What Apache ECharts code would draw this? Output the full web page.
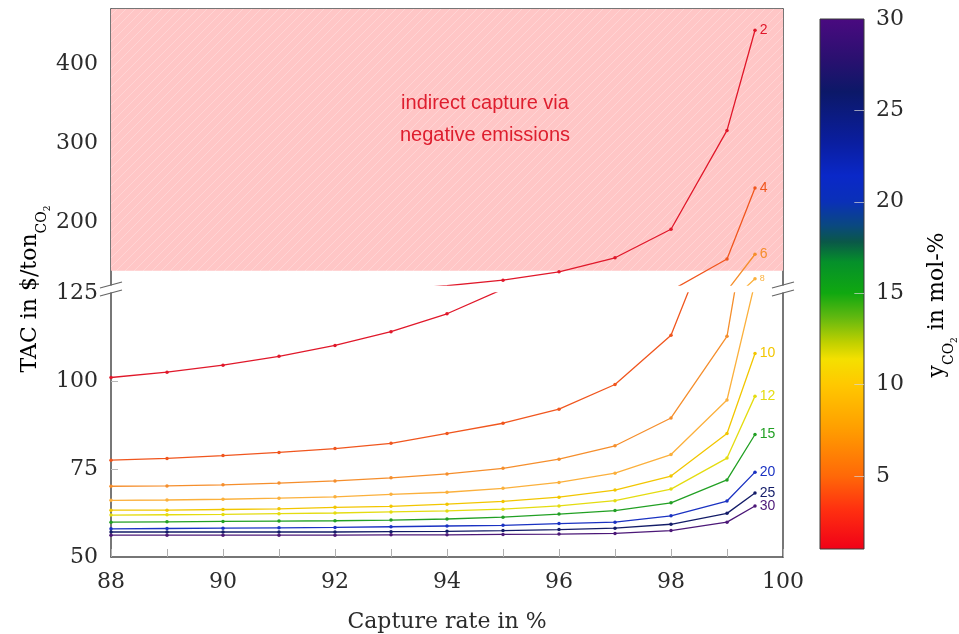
<!DOCTYPE html>
<html>
<head>
<meta charset="utf-8">
<script src="https://cdn.jsdelivr.net/npm/echarts@6/dist/echarts.min.js"></script>
<style>
  html, body { margin: 0; padding: 0; background: #fff; }
  #chart-container { width: 959px; height: 634px; }
</style>
</head>
<body>
<div id="chart-container"></div>
<script>
// capture rate (x) for every curve
const rates = [88, 89, 90, 91, 92, 93, 94, 95, 96, 97, 98, 99, 99.5];

// CO2 concentration in mol-% of each curve
const yCO2 = [2, 4, 6, 8, 10, 12, 15, 20, 25, 30];

// TAC in $/ton CO2, one array per concentration
const tacY2 = [101.0, 102.5, 104.5, 107.0, 110.1, 114.0, 119.1, 126.1, 136.7, 154.5, 190.7, 316, 443];
const tacY4 = [77.5, 78.0, 78.8, 79.7, 80.8, 82.3, 85.1, 88.0, 92.0, 99.0, 113.0, 153, 243];
const tacY6 = [70.1, 70.2, 70.5, 71.0, 71.6, 72.5, 73.6, 75.2, 77.8, 81.6, 89.5, 112.7, 159];
const tacY8 = [66.1, 66.2, 66.4, 66.7, 67.1, 67.8, 68.4, 69.5, 71.2, 73.8, 79.1, 94.6, 128];
const tacY10 = [63.3, 63.3, 63.5, 63.7, 64.1, 64.4, 65.0, 65.8, 67.0, 69.0, 73.0, 85.1, 107.8];
const tacY12 = [61.9, 62.0, 62.1, 62.3, 62.5, 62.8, 63.1, 63.6, 64.5, 66.0, 69.3, 78.1, 95.7];
const tacY15 = [59.9, 60.0, 60.1, 60.2, 60.3, 60.5, 60.8, 61.3, 62.2, 63.2, 65.4, 71.9, 84.8];
const tacY20 = [58.0, 58.1, 58.2, 58.3, 58.4, 58.6, 58.8, 59.0, 59.5, 59.9, 61.7, 65.9, 74.1];
const tacY25 = [57.1, 57.1, 57.1, 57.1, 57.1, 57.2, 57.3, 57.5, 57.8, 58.2, 59.3, 62.4, 68.2];
const tacY30 = [56.2, 56.2, 56.2, 56.2, 56.2, 56.3, 56.3, 56.4, 56.5, 56.7, 57.5, 59.9, 64.5];

const curves = [tacY2, tacY4, tacY6, tacY8, tacY10, tacY12, tacY15, tacY20, tacY25, tacY30];

const lineColors = ['#e0182a', '#f0561e', '#f58e2c', '#fbb03c', '#f2c600', '#e4dc10', '#22a024', '#1a32c2', '#131c68', '#4c1878'];

// colour bar: [mol-%, colour]
const barStops = [
  [1, '#f00018'], [3.2, '#ff3010'], [5, '#ff6808'], [7.7, '#ffa000'], [10, '#ffc800'],
  [11.4, '#f4e000'], [12.3, '#c0d000'], [13.7, '#60b810'], [15, '#10a810'], [16.7, '#05902a'],
  [17.8, '#0a5848'], [18.7, '#0a4880'], [20, '#0a30b8'], [21.4, '#0a28c8'], [23.2, '#0a1ea0'],
  [26, '#0c1868'], [27.8, '#2a1070'], [30, '#4a0a80']
];

// axis ticks
const xTicks = [88, 90, 92, 94, 96, 98, 100];
const upperTicks = [200, 300, 400];
const lowerTicks = [50, 75, 100, 125];
const barTicks = [5, 10, 15, 20, 25, 30];

const serif = 'DejaVu Serif';
const textColor = '#2b2b2b';
const frame = { show: true, lineStyle: { color: '#4a4a4a', width: 1.5 } };

function hatch() {
  const c = document.createElement('canvas');
  c.width = 9; c.height = 9;
  const g = c.getContext('2d');
  g.fillStyle = '#ffc6c6';
  g.fillRect(0, 0, 9, 9);
  g.strokeStyle = 'rgba(255,255,255,0.25)';
  g.lineWidth = 1;
  g.beginPath();
  g.moveTo(-1, 10); g.lineTo(10, -1);
  g.moveTo(-1, 1); g.lineTo(1, -1);
  g.moveTo(8, 10); g.lineTo(10, 8);
  g.stroke();
  return c;
}

var chartDom = document.getElementById('chart-container');
var myChart = echarts.init(chartDom);

const UPPER_MIN = 120, UPPER_MAX = 470, LOWER_MIN = 50, LOWER_MAX = 125;

const series = [];

// pink "negative emissions" area
series.push({
  type: 'line', xAxisIndex: 0, yAxisIndex: 0, z: 1, silent: true,
  data: [], symbol: 'none',
  markArea: {
    silent: true,
    itemStyle: { color: { image: hatch(), repeat: 'repeat' } },
    data: [[{ xAxis: 88, yAxis: 138 }, { xAxis: 100, yAxis: UPPER_MAX }]]
  }
});

curves.forEach((vals, i) => {
  const color = lineColors[i];
  [[0, 0, UPPER_MIN, UPPER_MAX], [1, 2, LOWER_MIN, LOWER_MAX]].forEach(([xi, yi, lo, hi]) => {
    const data = vals.map((v, k) => {
      const last = k === vals.length - 1;
      if (last && v >= lo && v <= hi) {
        return {
          value: [rates[k], v],
          label: {
            show: true, position: 'right', distance: 3,
            formatter: String(yCO2[i]), color: color,
            fontFamily: 'Liberation Sans', fontSize: yCO2[i] === 8 ? 9 : 14
          }
        };
      }
      return [rates[k], v];
    });
    series.push({
      type: 'line', xAxisIndex: xi, yAxisIndex: yi, z: 3,
      clip: true, data: data,
      symbol: 'circle', symbolSize: 3.5, showAllSymbol: true,
      lineStyle: { color: color, width: 1.3 },
      itemStyle: { color: color },
      emphasis: { disabled: true }
    });
  });
});

// colour bar with its inner tick marks
series.push({
  type: 'line', xAxisIndex: 2, yAxisIndex: 4, z: 1, silent: true,
  data: [[0, 1], [1, 30]], symbol: 'none', lineStyle: { opacity: 0 },
  markArea: {
    silent: true,
    itemStyle: {
      color: new echarts.graphic.LinearGradient(0, 1, 0, 0,
        barStops.map(([v, c]) => ({ offset: (v - 1) / 29, color: c }))),
      borderColor: '#3a3a3a', borderWidth: 1
    },
    data: [[{ xAxis: 0, yAxis: 1 }, { xAxis: 1, yAxis: 30 }]]
  },
  markLine: {
    silent: true, symbol: 'none', label: { show: false },
    lineStyle: { color: 'rgba(215,215,215,0.7)', width: 1, type: 'solid' },
    data: barTicks.filter(v => v < 30).map(v => [{ coord: [0.78, v] }, { coord: [1, v] }])
  }
});

const labelStyle = { fontFamily: serif, fontSize: 22, color: textColor };

var option = {
  animation: false,
  grid: [
    { left: 111, width: 672, top: 9, height: 276 },
    { left: 111, width: 672, top: 293, height: 270 },
    { left: 820, width: 44, top: 19, height: 530 }
  ],
  xAxis: [
    { type: 'value', gridIndex: 0, position: 'top', min: 88, max: 100,
      axisLine: frame, axisTick: { show: false }, axisLabel: { show: false }, splitLine: { show: false } },
    { type: 'value', gridIndex: 1, position: 'bottom', min: 88, max: 100, interval: 2,
      axisLine: frame,
      axisTick: { show: true, inside: true, length: 8, lineStyle: { color: '#b0b0b0' } },
      minorTick: { show: true, splitNumber: 2, length: 8, lineStyle: { color: '#b0b0b0' } },
      axisLabel: Object.assign({ margin: 14, customValues: xTicks }, labelStyle),
      splitLine: { show: false },
      name: 'Capture rate in %', nameLocation: 'middle', nameGap: 54,
      nameTextStyle: labelStyle },
    { type: 'value', gridIndex: 2, min: 0, max: 1, show: false }
  ],
  yAxis: [
    { type: 'value', gridIndex: 0, position: 'left', min: UPPER_MIN, max: UPPER_MAX,
      axisLine: frame, axisTick: { show: false },
      axisLabel: Object.assign({ margin: 13, customValues: upperTicks }, labelStyle),
      splitLine: { show: false } },
    { type: 'value', gridIndex: 0, position: 'right', min: UPPER_MIN, max: UPPER_MAX,
      axisLine: frame, axisTick: { show: false }, axisLabel: { show: false }, splitLine: { show: false } },
    { type: 'value', gridIndex: 1, position: 'left', min: LOWER_MIN, max: LOWER_MAX,
      axisLine: frame,
      axisTick: { show: true, inside: true, length: 7, customValues: [75, 100], lineStyle: { color: '#b8b8b8' } },
      axisLabel: Object.assign({ margin: 13, customValues: lowerTicks }, labelStyle),
      splitLine: { show: false } },
    { type: 'value', gridIndex: 1, position: 'right', min: LOWER_MIN, max: LOWER_MAX,
      axisLine: frame, axisTick: { show: false }, axisLabel: { show: false }, splitLine: { show: false } },
    { type: 'value', gridIndex: 2, position: 'right', min: 1, max: 30,
      axisLine: { show: false }, axisTick: { show: false },
      axisLabel: Object.assign({ margin: 12, customValues: barTicks }, labelStyle),
      splitLine: { show: false } }
  ],
  series: series
};

option && myChart.setOption(option);

// break marks, annotation and rotated axis titles
const xl = myChart.convertToPixel({ xAxisIndex: 1 }, 88);
const xr = myChart.convertToPixel({ xAxisIndex: 1 }, 100);
const yUpperBottom = myChart.convertToPixel({ yAxisIndex: 0 }, UPPER_MIN);
const yLowerTop = myChart.convertToPixel({ yAxisIndex: 2 }, LOWER_MAX);

const graphics = [];
[xl, xr].forEach(x => {
  [yUpperBottom, yLowerTop].forEach(y => {
    graphics.push({
      type: 'line', z: 10,
      shape: { x1: x - 11, y1: y + 3, x2: x + 11, y2: y - 3 },
      style: { stroke: '#666', lineWidth: 1.2 }
    });
  });
});

const richTitle = {
  m: { fontFamily: serif, fontSize: 22, color: textColor, lineHeight: 30, verticalAlign: 'middle' },
  s: { fontFamily: serif, fontSize: 14, color: textColor, lineHeight: 14, verticalAlign: 'bottom', padding: [0, 0, -4, 0] },
  t: { fontFamily: serif, fontSize: 9, color: textColor, lineHeight: 9, verticalAlign: 'bottom', padding: [0, 0, -7, 0] }
};

graphics.push({
  type: 'text', x: 30, y: 289, rotation: Math.PI / 2, z: 10,
  style: { text: '{m|TAC in $/ton}{s|CO}{t|2}', rich: richTitle, align: 'center', verticalAlign: 'middle' }
});
graphics.push({
  type: 'text', x: 937, y: 305, rotation: Math.PI / 2, z: 10,
  style: { text: '{m|y}{s|CO}{t|2}{m| in mol-%}', rich: richTitle, align: 'center', verticalAlign: 'middle' }
});
graphics.push({
  type: 'text', x: 485, y: 119, z: 10,
  style: {
    text: 'indirect capture via\nnegative emissions',
    fontFamily: 'Liberation Sans', fontSize: 20, lineHeight: 32,
    fill: '#de1e2e', align: 'center', verticalAlign: 'middle'
  }
});

myChart.setOption({ graphic: graphics });
</script>
</body>
</html>
